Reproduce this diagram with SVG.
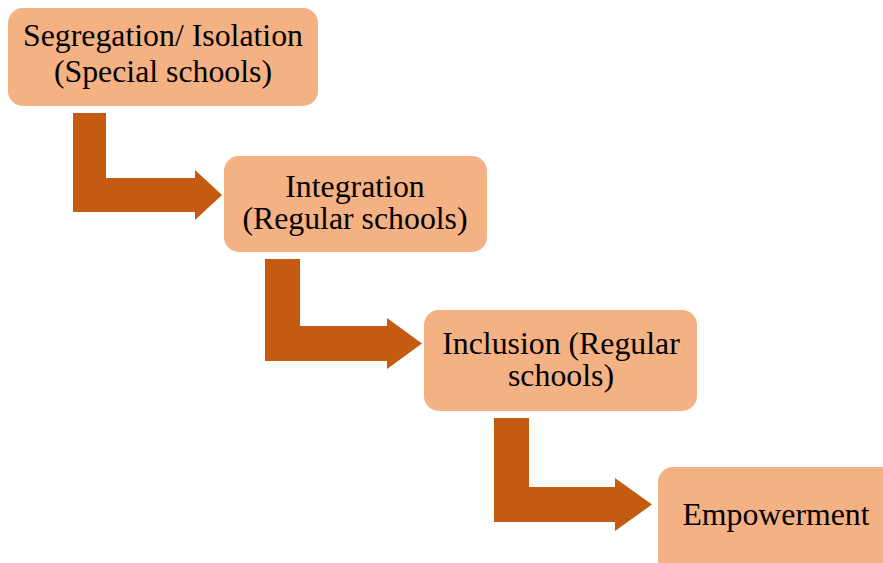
<svg xmlns="http://www.w3.org/2000/svg" width="883" height="563" viewBox="0 0 883 563">
  <style>
    .box { fill: #F4B183; }
    .arrow { fill: #C55A11; }
    .label { font-family: "Liberation Serif", "Times New Roman", serif; font-size: 31.8px; fill: #000; text-anchor: middle; }
  </style>
  <rect width="883" height="563" fill="#fff"/>

  <g id="connectors">
    <path class="arrow" d="M73,113 H106 V178 H195 V170 L222,195 L195,220 V212 H73 Z"/>
    <path class="arrow" d="M265,259 H300 V326 H387 V318 L422,343.5 L387,369 V361 H265 Z"/>
    <path class="arrow" d="M494,418 H529 V487 H615 V478 L652,504.5 L615,531 V522 H494 Z"/>
  </g>

  <g id="segregation">
    <rect class="box" x="8" y="8" width="310" height="98" rx="15"/>
    <text class="label" x="163" y="46">Segregation/ Isolation</text>
    <text class="label" x="163" y="82">(Special schools)</text>
  </g>

  <g id="integration">
    <rect class="box" x="224" y="156" width="263" height="96" rx="15"/>
    <text class="label" x="355" y="197">Integration</text>
    <text class="label" x="355" y="229">(Regular schools)</text>
  </g>

  <g id="inclusion">
    <rect class="box" x="424" y="310" width="273" height="101" rx="15"/>
    <text class="label" x="561" y="354">Inclusion (Regular</text>
    <text class="label" x="561" y="386">schools)</text>
  </g>

  <g id="empowerment">
    <rect class="box" x="658" y="467" width="245" height="120" rx="15"/>
    <text class="label" x="776" y="525">Empowerment</text>
  </g>
</svg>
